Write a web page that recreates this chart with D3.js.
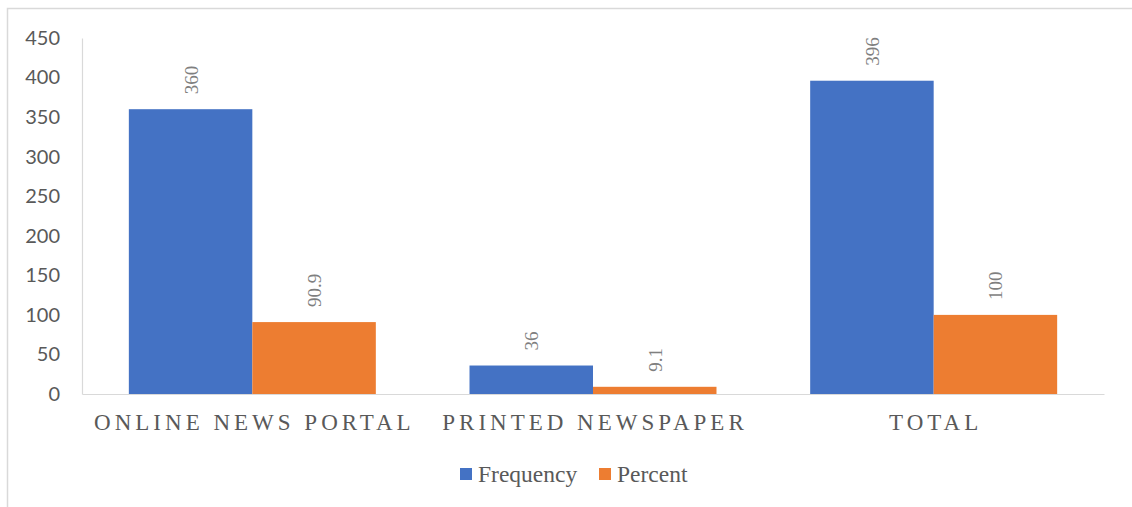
<!DOCTYPE html>
<html>
<head>
<meta charset="utf-8">
<script src="https://cdn.jsdelivr.net/npm/d3@7"></script>
<style>
  html, body { margin: 0; padding: 0; background: #fff; }
</style>
</head>
<body>
<svg id="chart" width="1132" height="507"></svg>
<script>
const categories = ["ONLINE NEWS PORTAL", "PRINTED NEWSPAPER", "TOTAL"];
const seriesNames = ["Frequency", "Percent"];
const frequency = [360, 36, 396];
const percent = [90.9, 9.1, 100];
const yTicks = [0, 50, 100, 150, 200, 250, 300, 350, 400, 450];
const colors = ["#4472C4", "#ED7D31"];

const svg = d3.select("#chart");
const W = 1132, H = 507;
const mLeft = 82, mRight = 1104, mTop = 38, mBottom = 394;

// chart border
svg.append("rect")
  .attr("x", 7.5).attr("y", 8.5)
  .attr("width", W + 20).attr("height", H + 20)
  .attr("fill", "#fff").attr("stroke", "#d9d9d9").attr("stroke-width", 1.5);

const x = d3.scaleBand().domain(categories).range([mLeft, mRight]).paddingInner(0.275).paddingOuter(0.1375);
const xs = d3.scaleBand().domain(seriesNames).range([0, x.bandwidth()]);
const y = d3.scaleLinear().domain([0, 450]).range([mBottom, mTop]);

// y axis
const yAxis = d3.axisLeft(y).tickValues(yTicks).tickSize(0).tickPadding(22);
const gy = svg.append("g").attr("transform", `translate(${mLeft},0)`).call(yAxis);
gy.select(".domain").attr("stroke", "#d9d9d9").attr("stroke-width", 1.2);
gy.selectAll("text").attr("font-family", "Lato, 'Carlito', sans-serif").attr("font-size", 20).attr("fill", "#595959");

const data = categories.map((c, i) => ({ cat: c, values: [frequency[i], percent[i]] }));

const groups = svg.append("g").selectAll("g").data(data).join("g")
  .attr("transform", d => `translate(${x(d.cat)},0)`);

groups.selectAll("rect").data(d => d.values.map((v, j) => ({ s: seriesNames[j], v, j })))
  .join("rect")
  .attr("x", d => xs(d.s))
  .attr("y", d => y(d.v))
  .attr("width", xs.bandwidth())
  .attr("height", d => y(0) - y(d.v))
  .attr("fill", d => colors[d.j]);

groups.selectAll("text.lbl").data(d => d.values.map((v, j) => ({ s: seriesNames[j], v, j })))
  .join("text")
  .attr("class", "lbl")
  .attr("transform", d => `translate(${xs(d.s) + xs.bandwidth() / 2 + 7},${y(d.v) - 15}) rotate(-90)`)
  .attr("text-anchor", "start")
  .attr("font-family", "'Liberation Serif', 'Times New Roman', serif")
  .attr("font-size", 19)
  .attr("fill", "#7f7f7f")
  .text(d => d.v);

// x axis
const xAxis = d3.axisBottom(x).tickSize(0).tickPadding(20);
const gx = svg.append("g").attr("transform", `translate(0,${mBottom})`).call(xAxis);
gx.select(".domain").attr("stroke", "#d9d9d9").attr("stroke-width", 1.2);
gx.selectAll("text")
  .attr("font-family", "'Liberation Serif', 'Times New Roman', serif")
  .attr("font-size", 23)
  .attr("letter-spacing", "4px")
  .attr("dx", "2px")
  .attr("fill", "#595959");

// legend
const legendX = [460, 599];
const lg = svg.append("g");
seriesNames.forEach((s, i) => {
  lg.append("rect").attr("x", legendX[i]).attr("y", 468).attr("width", 12).attr("height", 12).attr("fill", colors[i]);
  lg.append("text").attr("x", legendX[i] + 18).attr("y", 482)
    .attr("font-family", "'Liberation Serif', 'Times New Roman', serif")
    .attr("font-size", 23.5).attr("fill", "#595959").text(s);
});
</script>
</body>
</html>
